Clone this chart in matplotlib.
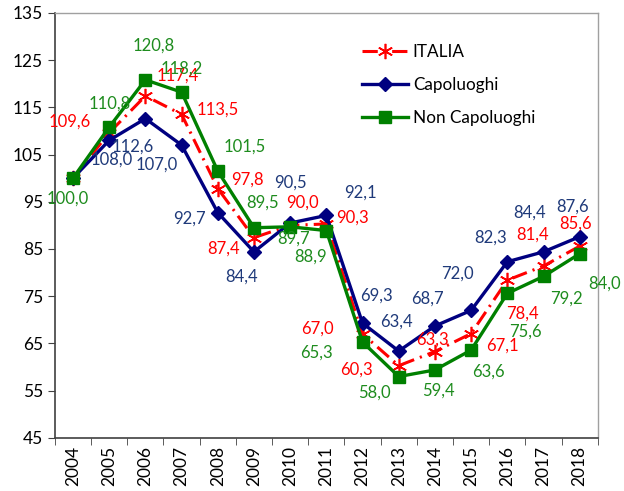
import numpy as np
import matplotlib
matplotlib.use('Agg')
from matplotlib import pyplot as plt

years = ['2004', '2005', '2006', '2007', '2008', '2009', '2010', '2011',
         '2012', '2013', '2014', '2015', '2016', '2017', '2018']
italia = [100.0, 109.6, 117.4, 113.5, 97.8, 87.4, 90.0, 90.3,
          67.0, 60.3, 63.3, 67.1, 78.4, 81.4, 85.6]
capoluoghi = [100.0, 108.0, 112.6, 107.0, 92.7, 84.4, 90.5, 92.1,
              69.3, 63.4, 68.7, 72.0, 82.3, 84.4, 87.6]
non_capoluoghi = [100.0, 110.8, 120.8, 118.2, 101.5, 89.5, 89.7, 88.9,
                  65.3, 58.0, 59.4, 63.6, 75.6, 79.2, 84.0]

# label offsets in pixels (dx, dy down positive), None = no label
off_italia = [None, (-39, -11), (32, -20), (36, -5), (30, -9), (-30, 11), (12, -23), (26, -6),
              (-45, -5), (-42, 4), (-2, -12), (31, 12), (15, 33), (-11, -31), (-4, -23)]
off_cap = [None, (3, 19), (-13, 28), (-25, 20), (-28, 6), (-12, 25), (0, -40), (34, -23),
           (14, -28), (-2, -29), (-7, -27), (-14, -37), (-17, -24), (-14, -39), (-7, -30)]
off_noncap = [(-5, 21), (1, -23), (8, -34), (0, -24), (27, -24), (9, -25), (3, 12), (-16, 26),
              (-46, 11), (-24, 16), (3, 21), (17, 22), (18, 38), (23, 22), (25, 30)]

plt.rcParams['font.family'] = ['Lato', 'DejaVu Sans']

fig = plt.figure(figsize=(6.24, 4.91), dpi=100)
ax = fig.add_axes([0.088, 0.108, 0.870, 0.866])

x = np.arange(len(years))
red, navy, green = '#FF0000', '#000080', '#008000'

ax.plot(x, italia, color=red, lw=2.2, ls=(0, (5, 2, 0.7, 2)), marker=(6, 2, 0),
        ms=11, mew=1.2, label='ITALIA', zorder=3)
ax.plot(x, capoluoghi, color=navy, lw=2.4, marker='D', ms=7, label='Capoluoghi', zorder=4)
ax.plot(x, non_capoluoghi, color=green, lw=2.4, marker='s', ms=9, label='Non Capoluoghi', zorder=5)

px = 72 / 100  # pixels to points
for vals, offs, col in [(italia, off_italia, red), (capoluoghi, off_cap, '#1F3A7A'),
                        (non_capoluoghi, off_noncap, '#1E8C1E')]:
    for i, (v, o) in enumerate(zip(vals, offs)):
        if o is None:
            continue
        ax.annotate(f'{v:.1f}'.replace('.', ','), (x[i], v),
                    xytext=(o[0] * px, -o[1] * px), textcoords='offset points',
                    ha='center', va='center', color=col, fontsize=12, zorder=6)

ax.set_xlim(-0.5, len(years) - 0.5)
ax.set_ylim(45, 135)
ax.set_yticks(np.arange(45, 136, 10))
ax.set_xticks(x)
ax.set_xticklabels(years, rotation=90, fontsize=12.5)
ax.set_xticks(np.arange(-0.5, len(years), 1), minor=True)
ax.tick_params(axis='x', which='major', length=0, pad=6)
ax.tick_params(axis='x', which='minor', length=5, color='#404040')
ax.tick_params(axis='y', labelsize=12.5, length=5, color='#404040')

for s in ['top', 'right']:
    ax.spines[s].set_color('#A0A0A0')
    ax.spines[s].set_linewidth(1.0)
for s in ['left', 'bottom']:
    ax.spines[s].set_color('#404040')
    ax.spines[s].set_linewidth(1.2)

ax.legend(loc='upper left', bbox_to_anchor=(0.538, 0.962), frameon=False, fontsize=12.3,
          handlelength=2.7, labelspacing=1.0, handletextpad=0.25, borderpad=0.4)

fig.savefig('out.png', dpi=100)
